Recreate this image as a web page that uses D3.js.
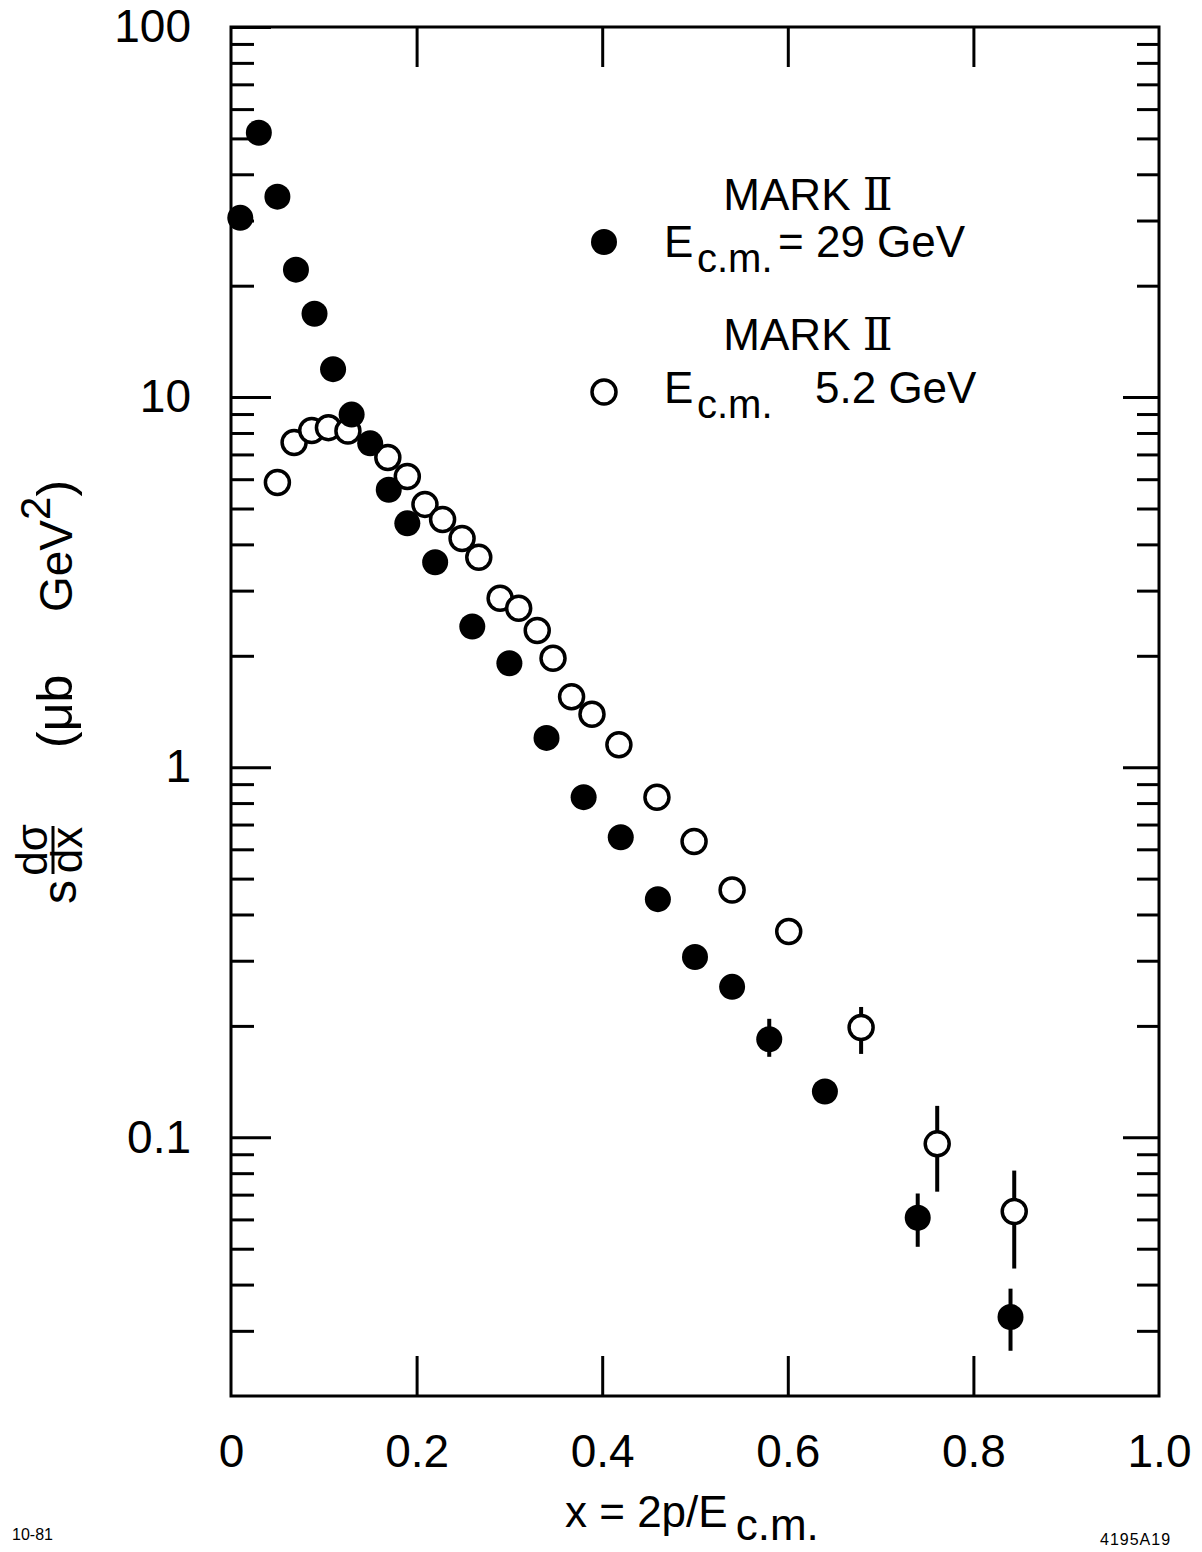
<!DOCTYPE html>
<html>
<head>
<meta charset="utf-8">
<script src="https://cdn.jsdelivr.net/npm/d3@7"></script>
<style>
    body { margin: 0; background: #fff; }
    text { font-family: "Liberation Sans", "DejaVu Sans", sans-serif; fill: #000; }
</style>
</head>
<body>
<div id="chart"></div>
<script>
// 29 GeV (filled)
const xHigh = [0.01, 0.03, 0.05, 0.07, 0.09, 0.11, 0.13, 0.15, 0.17, 0.19, 0.22, 0.26,
    0.30, 0.34, 0.38, 0.42, 0.46, 0.50, 0.54, 0.58, 0.64, 0.74, 0.84];
const sHigh = [30.5, 51.8, 34.8, 22.1, 16.8, 11.9, 8.97, 7.5, 5.62, 4.56, 3.58, 2.40,
    1.91, 1.20, 0.83, 0.647, 0.44, 0.307, 0.255, 0.184, 0.133, 0.0606, 0.0327];
const barHighX = [0.54, 0.58, 0.64, 0.74, 0.84];
const barHighLo = [0.237, 0.165, 0.127, 0.0506, 0.0265];
const barHighHi = [0.276, 0.209, 0.141, 0.0705, 0.039];

// 5.2 GeV (open)
const xLow = [0.05, 0.068, 0.087, 0.105, 0.126, 0.169, 0.19, 0.209, 0.228, 0.249, 0.267,
    0.29, 0.31, 0.33, 0.347, 0.367, 0.389, 0.418, 0.459, 0.499, 0.54, 0.601, 0.679, 0.761, 0.844];
const sLow = [5.88, 7.54, 8.12, 8.27, 8.1, 6.87, 6.10, 5.13, 4.67, 4.15, 3.69,
    2.86, 2.69, 2.34, 1.97, 1.55, 1.39, 1.15, 0.83, 0.63, 0.466, 0.36, 0.198, 0.096, 0.063];
const barLowX = [0.679, 0.761, 0.844];
const barLowLo = [0.168, 0.0713, 0.0442];
const barLowHi = [0.225, 0.1216, 0.0813];

const xTicks = [0, 0.2, 0.4, 0.6, 0.8, 1.0];
const xTickLabels = ["0", "0.2", "0.4", "0.6", "0.8", "1.0"];
const yMajor = [0.1, 1, 10, 100];
const yTickLabels = ["0.1", "1", "10", "100"];
const yMinor = [0.03, 0.04, 0.05, 0.06, 0.07, 0.08, 0.09,
    0.2, 0.3, 0.4, 0.5, 0.6, 0.7, 0.8, 0.9,
    2, 3, 4, 5, 6, 7, 8, 9,
    20, 30, 40, 50, 60, 70, 80, 90];

function drawChart() {
    const width = 1202, height = 1552;
    const svg = d3.select("#chart")
        .append("svg")
        .attr("width", width)
        .attr("height", height);

    const x = d3.scaleLinear().domain([0, 1]).range([231, 1159]);
    const y = d3.scaleLog().domain([0.02, 100]).range([1396, 27]);

    const tickStyle = g => {
        g.select(".domain").remove();
        g.selectAll(".tick line").attr("stroke", "#000").attr("stroke-width", 3);
    };

    // left side ticks
    svg.append("g")
        .attr("transform", `translate(${x(0)},0)`)
        .call(d3.axisLeft(y).tickValues(yMinor).tickSize(-23).tickFormat(""))
        .call(tickStyle);
    svg.append("g")
        .attr("transform", `translate(${x(0)},0)`)
        .call(d3.axisLeft(y).tickValues(yMajor).tickSize(-40).tickPadding(40)
            .tickFormat((d, i) => yTickLabels[i]))
        .call(tickStyle)
        .selectAll("text")
        .attr("font-size", 46)
        .attr("font-family", "Liberation Sans");

    // right side ticks
    svg.append("g")
        .attr("transform", `translate(${x(1)},0)`)
        .call(d3.axisRight(y).tickValues(yMinor).tickSize(-22).tickFormat(""))
        .call(tickStyle);
    svg.append("g")
        .attr("transform", `translate(${x(1)},0)`)
        .call(d3.axisRight(y).tickValues(yMajor.slice(0, 3)).tickSize(-36).tickFormat(""))
        .call(tickStyle);

    // x ticks bottom and top
    svg.append("g")
        .attr("transform", `translate(0,${y(0.02)})`)
        .call(d3.axisBottom(x).tickValues(xTicks.slice(1, 5)).tickSize(-40).tickFormat(""))
        .call(tickStyle);
    svg.append("g")
        .attr("transform", `translate(0,${y(100)})`)
        .call(d3.axisTop(x).tickValues(xTicks.slice(1, 5)).tickSize(-40).tickFormat(""))
        .call(tickStyle);
    svg.append("g")
        .attr("transform", `translate(0,${y(0.02)})`)
        .call(d3.axisBottom(x).tickValues(xTicks).tickSize(0).tickPadding(38)
            .tickFormat((d, i) => xTickLabels[i]))
        .call(tickStyle)
        .selectAll("text")
        .attr("font-size", 46)
        .attr("font-family", "Liberation Sans");

    // frame
    svg.append("rect")
        .attr("x", x(0))
        .attr("y", y(100))
        .attr("width", x(1) - x(0))
        .attr("height", y(0.02) - y(100))
        .attr("fill", "none")
        .attr("stroke", "#000")
        .attr("stroke-width", 3);

    // error bars
    const bars = barHighX.map((v, i) => ({x: v, lo: barHighLo[i], hi: barHighHi[i]}))
        .concat(barLowX.map((v, i) => ({x: v, lo: barLowLo[i], hi: barLowHi[i]})));
    svg.append("g").selectAll("line")
        .data(bars)
        .join("line")
        .attr("x1", d => x(d.x))
        .attr("x2", d => x(d.x))
        .attr("y1", d => y(d.lo))
        .attr("y2", d => y(d.hi))
        .attr("stroke", "#000")
        .attr("stroke-width", 4);

    // open points
    svg.append("g").selectAll("circle")
        .data(xLow.map((v, i) => ({x: v, s: sLow[i]})))
        .join("circle")
        .attr("cx", d => x(d.x))
        .attr("cy", d => y(d.s))
        .attr("r", 12)
        .attr("fill", "#fff")
        .attr("stroke", "#000")
        .attr("stroke-width", 3.5);

    // filled points
    svg.append("g").selectAll("circle")
        .data(xHigh.map((v, i) => ({x: v, s: sHigh[i]})))
        .join("circle")
        .attr("cx", d => x(d.x))
        .attr("cy", d => y(d.s))
        .attr("r", 13)
        .attr("fill", "#000");

    // legend
    const legend = svg.append("g");
    const markTitle = yPos => {
        const t = legend.append("text").attr("x", 808).attr("y", yPos)
            .attr("text-anchor", "middle").attr("font-size", 44);
        t.append("tspan").text("MARK ");
        t.append("tspan").attr("font-family", "DejaVu Serif").text("\u2161");
    };
    markTitle(210);
    legend.append("circle").attr("cx", 604).attr("cy", 242).attr("r", 13).attr("fill", "#000");
    legend.append("text").attr("x", 664).attr("y", 257).attr("font-size", 44).text("E");
    legend.append("text").attr("x", 697).attr("y", 272).attr("font-size", 40).text("c.m.");
    legend.append("text").attr("x", 778).attr("y", 257).attr("font-size", 44).text("= 29 GeV");

    markTitle(350);
    legend.append("circle").attr("cx", 604).attr("cy", 392).attr("r", 12)
        .attr("fill", "#fff").attr("stroke", "#000").attr("stroke-width", 3.5);
    legend.append("text").attr("x", 664).attr("y", 403).attr("font-size", 44).text("E");
    legend.append("text").attr("x", 697).attr("y", 418).attr("font-size", 40).text("c.m.");
    legend.append("text").attr("x", 815).attr("y", 403).attr("font-size", 44).text("5.2 GeV");

    // x axis title
    const xt = svg.append("text").attr("x", 565).attr("y", 1527).attr("font-size", 44);
    xt.append("tspan").text("x = 2p/E");
    xt.append("tspan").attr("dx", 8).attr("dy", 13).text("c.m.");

    // y axis title (rotated)
    const yt = svg.append("g").attr("transform", "rotate(-90)");
    yt.append("text").attr("x", -892).attr("y", 76).attr("text-anchor", "middle")
        .attr("font-size", 48).text("s");
    yt.append("text").attr("x", -850).attr("y", 47).attr("text-anchor", "middle")
        .attr("font-size", 44).text("d\u03c3");
    yt.append("text").attr("x", -850).attr("y", 82).attr("text-anchor", "middle")
        .attr("font-size", 44).text("dx");
    yt.append("line").attr("x1", -874).attr("x2", -826).attr("y1", 53).attr("y2", 53)
        .attr("stroke", "#000").attr("stroke-width", 3);
    yt.append("text").attr("x", -748).attr("y", 72).attr("font-size", 50).text("(\u03bcb");
    const gev = yt.append("text").attr("x", -612).attr("y", 72).attr("font-size", 46);
    gev.append("tspan").text("GeV");
    gev.append("tspan").attr("dy", -22).attr("font-size", 42).text("2");
    gev.append("tspan").attr("dy", 22).attr("font-size", 50).text(")");

    // corner notes
    svg.append("text").attr("x", 12).attr("y", 1540)
        .attr("font-family", "Liberation Serif").attr("font-size", 16).text("10-81");
    svg.append("text").attr("x", 1100).attr("y", 1545)
        .attr("font-family", "Liberation Serif").attr("font-size", 16)
        .attr("letter-spacing", 1).text("4195A19");

    svg.node();
}

drawChart();
</script>
</body>
</html>
